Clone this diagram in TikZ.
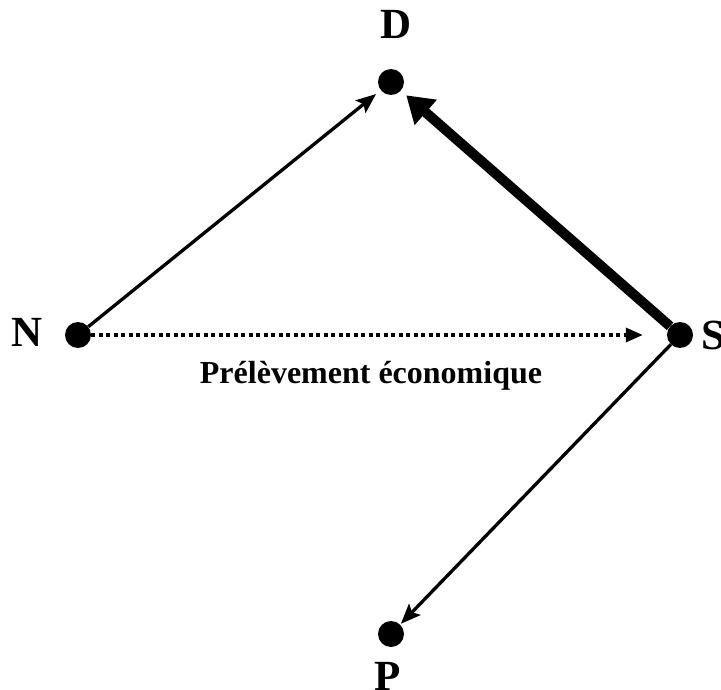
\documentclass[tikz,border=0pt]{standalone}
\usepackage{fontspec}
\setmainfont{Liberation Serif}
\usetikzlibrary{arrows.meta}
\begin{document}
\begin{tikzpicture}[x=1pt,y=-1pt,
  dot/.style={circle,fill=black,minimum size=26pt,inner sep=0pt},
  lbl/.style={font=\bfseries\fontsize{43}{43}\selectfont,inner sep=0pt},
  thin/.style={line width=3.3pt,-{Stealth[length=20pt,width=16pt,inset=4pt]}},
  thick/.style={line width=10pt,-{Triangle[length=26pt,width=32pt]}},
  dotline/.style={line width=3.3pt,dash pattern=on 4pt off 3.5pt,-{Triangle[length=17pt,width=14pt]}}]
\useasboundingbox (0,0) rectangle (721,690);
\node[dot] (D) at (391,82) {};
\node[dot] (N) at (78,335) {};
\node[dot] (S) at (680,335) {};
\node[dot] (P) at (391,634) {};
\node[lbl] (Dl) at (396,24) {D};
\node[lbl] (Nl) at (27,332) {N};
\node[lbl,anchor=west] (Sl) at (701,335) {S};
\node[lbl] (Pl) at (388,676) {P};
\node[font=\bfseries\fontsize{32}{32}\selectfont,inner sep=0pt,anchor=base] (T) at (371,383) {Prélèvement économique};
\draw[thin,shorten >=6pt] (N) -- (D);
\draw[thick,shorten >=7pt] (S) -- (D);
\draw[dotline,shorten >=24pt] (N) -- (S);
\draw[thin,shorten >=1pt] (S) -- (P);
\end{tikzpicture}
\end{document}
